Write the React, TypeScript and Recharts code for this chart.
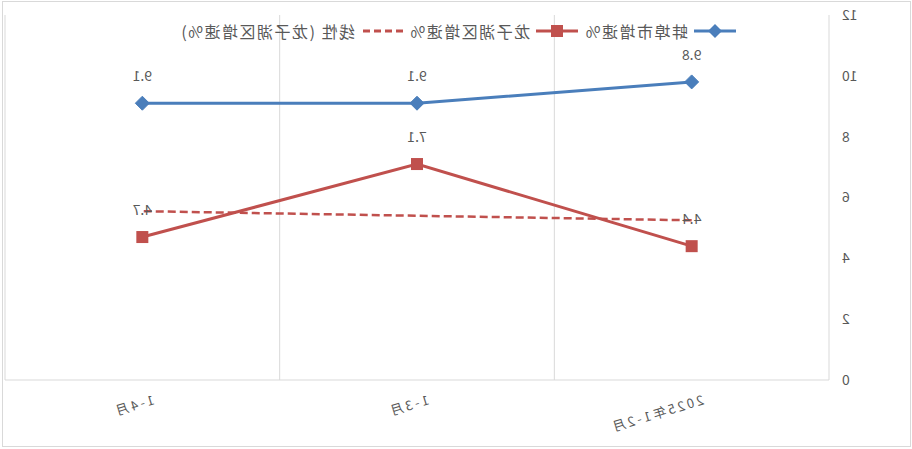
import { LineChart, Line, XAxis, YAxis, CartesianGrid, LabelList } from "recharts";

const categories = ["2025年1-2月", "1-3月", "1-4月"];
const bengbuGrowth = [9.8, 9.1, 9.1];
const longzihuGrowth = [4.4, 7.1, 4.7];
const longzihuTrend = [5.25, 5.4, 5.55];
const yTicks = [0, 2, 4, 6, 8, 10, 12];

const BLUE = "#4a7ebb";
const RED = "#c0504d";
const GREY = "#595959";
const GRID = "#d9d9d9";
const FONT = "'Noto Sans CJK SC', 'Noto Sans', sans-serif";

const data = categories.map((name, i) => ({
  name,
  bengbu: bengbuGrowth[i],
  longzihu: longzihuGrowth[i],
  trend: longzihuTrend[i],
}));

const Diamond = (props: any) => {
  const { cx, cy } = props;
  if (cx == null || cy == null) return null;
  const r = 7;
  return (
    <polygon
      points={`${cx},${cy - r} ${cx + r},${cy} ${cx},${cy + r} ${cx - r},${cy}`}
      fill={BLUE}
      stroke={BLUE}
    />
  );
};

const Square = (props: any) => {
  const { cx, cy } = props;
  if (cx == null || cy == null) return null;
  const s = 12;
  return <rect x={cx - s / 2} y={cy - s / 2} width={s} height={s} fill={RED} />;
};

const XTick = (props: any) => {
  const { x, y, payload } = props;
  const ax = x - 13;
  const ay = y + 24;
  return (
    <text
      x={ax}
      y={ay}
      transform={`rotate(17 ${ax} ${ay})`}
      textAnchor="start"
      fill={GREY}
      fontSize={13}
      fontFamily={FONT}
      letterSpacing={2.6}
    >
      {payload.value}
    </text>
  );
};

const LegendIcon = ({ kind }: { kind: string }) => (
  <svg width={42} height={16} style={{ marginRight: 6 }}>
    {kind === "dash" ? (
      <line x1={0} y1={8} x2={42} y2={8} stroke={RED} strokeWidth={3} strokeDasharray="7 4" />
    ) : (
      <line x1={0} y1={8} x2={42} y2={8} stroke={kind === "diamond" ? BLUE : RED} strokeWidth={3} />
    )}
    {kind === "diamond" && <polygon points="21,1 28,8 21,15 14,8" fill={BLUE} />}
    {kind === "square" && <rect x={15} y={2} width={12} height={12} fill={RED} />}
  </svg>
);

const legendItems = [
  { kind: "diamond", label: "蚌埠市增速%" },
  { kind: "square", label: "龙子湖区增速%" },
  { kind: "dash", label: "线性 (龙子湖区增速%)" },
];

const App = () => {
  return (
    <div
      style={{
        position: "absolute",
        left: 0,
        top: 0,
        width: 912,
        height: 449,
        transform: "scaleX(-1)",
        background: "#fff",
      }}
    >
      <div
        style={{
          position: "absolute",
          left: 1,
          top: 1,
          width: 909,
          height: 446,
          border: `1px solid ${GRID}`,
          boxSizing: "border-box",
        }}
      />
      <LineChart
        width={912}
        height={449}
        data={data}
        margin={{ top: 15, right: 5, left: 0, bottom: 0 }}
      >
        <CartesianGrid
          stroke={GRID}
          horizontal={false}
          verticalCoordinatesGenerator={(props: any) => {
            const off = props.offset || { left: 83, width: 824 };
            return categories
              .concat([""])
              .map((_, i) => off.left + (i * off.width) / categories.length);
          }}
        />
        <XAxis
          dataKey="name"
          scale="band"
          axisLine={{ stroke: GRID }}
          tickLine={false}
          tickSize={0}
          tickMargin={0}
          height={69}
          interval={0}
          tick={<XTick />}
        />
        <YAxis
          width={83}
          domain={[0, 12]}
          ticks={yTicks}
          axisLine={false}
          tickLine={false}
          tickSize={0}
          tickMargin={13}
          tick={{ fill: GREY, fontSize: 14, fontFamily: FONT }}
        />
        <Line
          dataKey="trend"
          stroke={RED}
          strokeWidth={2.5}
          strokeDasharray="8 4"
          dot={false}
          activeDot={false}
          isAnimationActive={false}
        />
        <Line
          dataKey="longzihu"
          stroke={RED}
          strokeWidth={3}
          dot={<Square />}
          activeDot={false}
          isAnimationActive={false}
        >
          <LabelList dataKey="longzihu" position="top" offset={22} fill={GREY} fontSize={14} fontFamily={FONT} />
        </Line>
        <Line
          dataKey="bengbu"
          stroke={BLUE}
          strokeWidth={3}
          dot={<Diamond />}
          activeDot={false}
          isAnimationActive={false}
        >
          <LabelList dataKey="bengbu" position="top" offset={22} fill={GREY} fontSize={14} fontFamily={FONT} />
        </Line>
      </LineChart>
      <div
        style={{
          position: "absolute",
          left: 176,
          top: 19,
          display: "flex",
          alignItems: "center",
          fontFamily: FONT,
          fontSize: 16,
          letterSpacing: 1.5,
          color: GREY,
          whiteSpace: "nowrap",
        }}
      >
        {legendItems.map((item) => (
          <div key={item.label} style={{ display: "flex", alignItems: "center", marginRight: 6 }}>
            <LegendIcon kind={item.kind} />
            <span>{item.label}</span>
          </div>
        ))}
      </div>
    </div>
  );
};

export default App;
